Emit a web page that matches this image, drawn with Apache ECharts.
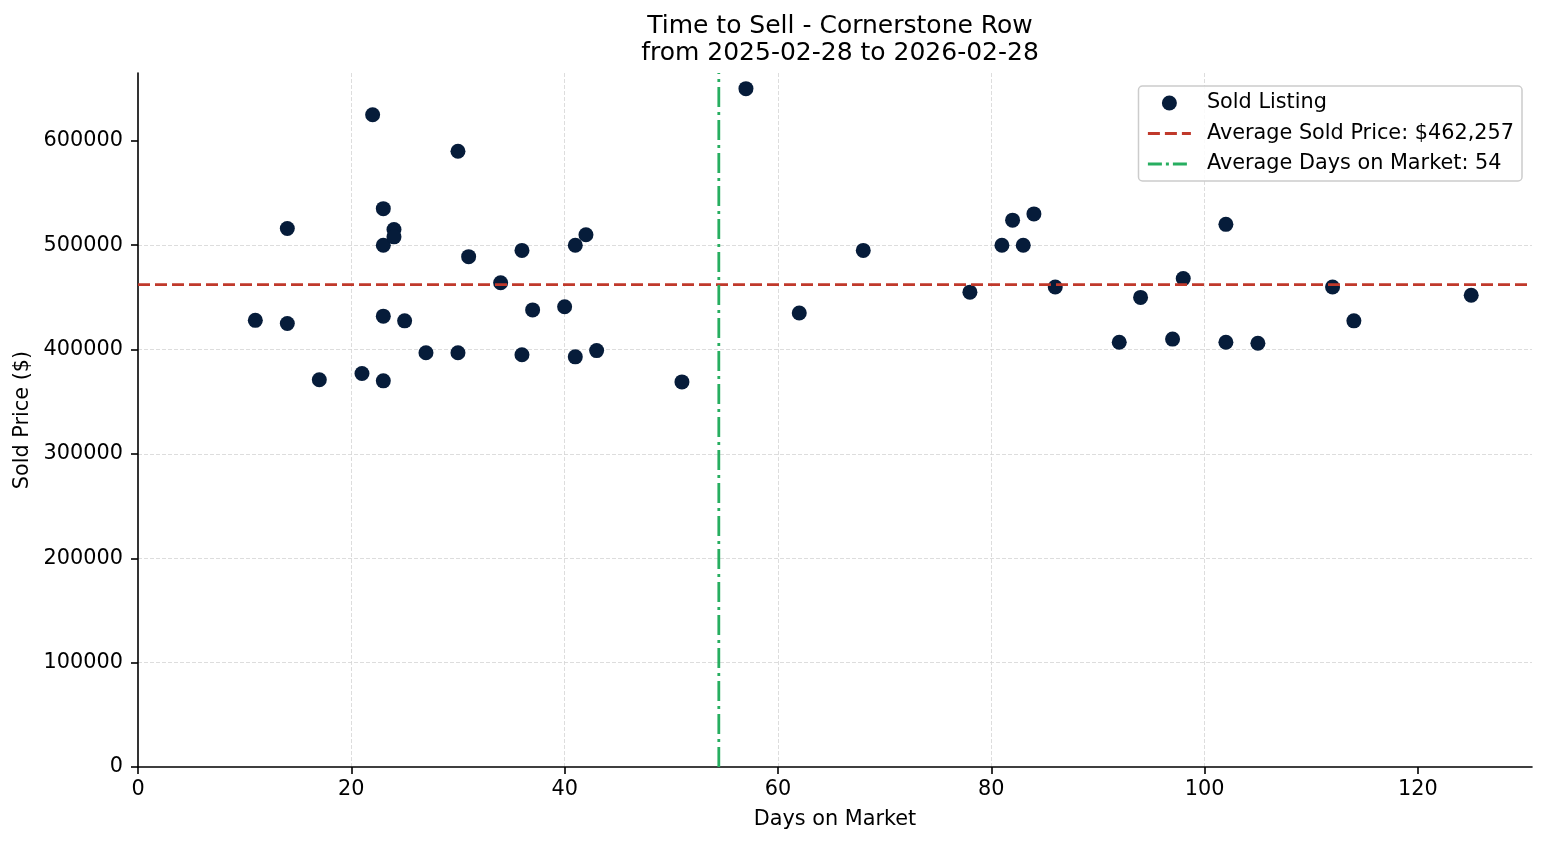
<!DOCTYPE html>
<html>
<head>
<meta charset="utf-8">
<script src="https://cdn.jsdelivr.net/npm/echarts@6/dist/echarts.min.js"></script>
<style>
html,body{margin:0;padding:0;background:#fff;}
#chart{width:1547px;height:845px;}
</style>
</head>
<body>
<div id="chart"></div>
<script>
const titleLines = ['Time to Sell - Cornerstone Row', 'from 2025-02-28 to 2026-02-28'];
const days = [11,14,14,17,21,22,23,23,23,23,24,24,25,27,30,30,31,34,36,36,37,40,41,41,42,43,51,57,62,68,78,81,82,83,84,86,92,94,97,98,102,102,105,112,114,125];
const prices = [428000,516000,425000,371000,377000,625000,535000,500000,432000,370000,515000,508000,427500,397000,590000,397000,489000,464000,495000,395000,438000,441000,500000,393000,510000,399000,369000,650000,435000,495000,455000,500000,524000,500000,530000,460000,407000,450000,410000,468000,520000,407000,406000,460000,427500,452000];
const avgSoldPrice = 462257;
const xTicks = [0,20,40,60,80,100,120];
const yTicks = [0,100000,200000,300000,400000,500000,600000];
const xRange = [0, 130.7];
const yRange = [0, 665000];

const avgDays = days.reduce((a,b)=>a+b,0)/days.length;
const points = days.map((d,i)=>[d, prices[i]]);
const priceLabel = 'Average Sold Price: $' + avgSoldPrice.toLocaleString('en-US');
const daysLabel = 'Average Days on Market: ' + Math.round(avgDays);

const FONT = 'DejaVu Sans';
const FS = 20.8;
const RED = '#c0392b', GREEN = '#27ae60';
const redDash = [12,5], greenDash = [20,5,3,5];
const chart = echarts.init(document.getElementById('chart'), null, {renderer:'canvas'});
const axisCommon = {
  axisLine:{show:true, lineStyle:{color:'#000', width:1.6}},
  axisTick:{show:true, inside:false, length:7, lineStyle:{color:'#000', width:1.6}},
  splitLine:{show:true, showMinLine:false, showMaxLine:false, lineStyle:{color:'#d4d4d4', width:0.8, type:[4,2]}},
  nameTextStyle:{fontFamily:FONT, fontSize:FS, color:'#000'}
};
chart.setOption({
  animation:false,
  backgroundColor:'#fff',
  title:{
    text: titleLines.join('\n'),
    left: 835, top: 8, textAlign:'center',
    textStyle:{fontFamily:FONT, fontSize:25, fontWeight:'normal', color:'#000', lineHeight:27}
  },
  grid:{left:138, right:15, top:73, bottom:78, containLabel:false},
  legend:{
    orient:'vertical', right:25, top:86,
    padding:[5,8,5,8], itemGap:6.5, itemWidth:43, itemHeight:15,
    backgroundColor:'rgba(255,255,255,0.85)', borderColor:'#cccccc', borderWidth:1.5, borderRadius:4,
    textStyle:{fontFamily:FONT, fontSize:FS, color:'#000', lineHeight:24, padding:[0,0,0,11]},
    data:[
      {name:'Sold Listing', icon:'circle'},
      {name:priceLabel, itemStyle:{opacity:0}, lineStyle:{color:RED, width:2.8, type:redDash}},
      {name:daysLabel, itemStyle:{opacity:0}, lineStyle:{color:GREEN, width:2.8, type:[14,4,3,4]}}
    ]
  },
  xAxis:Object.assign({}, axisCommon, {
    type:'value', min:xRange[0], max:xRange[1], interval:20,
    name:'Days on Market', nameLocation:'middle', nameGap:42,
    axisTick:Object.assign({}, axisCommon.axisTick, {customValues:xTicks}),
    axisLabel:{customValues:xTicks, fontFamily:FONT, fontSize:FS, color:'#000', margin:12, formatter:v=>String(v)}
  }),
  yAxis:Object.assign({}, axisCommon, {
    type:'value', min:yRange[0], max:yRange[1], interval:100000,
    name:'Sold Price ($)', nameLocation:'middle', nameGap:103, nameRotate:90,
    axisTick:Object.assign({}, axisCommon.axisTick, {customValues:yTicks}),
    axisLabel:{customValues:yTicks, fontFamily:FONT, fontSize:FS, color:'#000', margin:15, formatter:v=>String(v)}
  }),
  series:[
    {
      name:'Sold Listing', type:'scatter', data:points, symbol:'circle', symbolSize:15,
      itemStyle:{color:'#061c3a', opacity:1}, z:2
    },
    {
      name:priceLabel, type:'line', data:[[xRange[0], avgSoldPrice],[xRange[1], avgSoldPrice]],
      symbol:'none', lineStyle:{color:RED, width:2.8, type:redDash}, itemStyle:{color:RED}, z:3
    },
    {
      name:daysLabel, type:'line', data:[[avgDays, yRange[0]],[avgDays, yRange[1]]],
      symbol:'none', lineStyle:{color:GREEN, width:2.8, type:greenDash}, itemStyle:{color:GREEN}, z:3
    }
  ]
});
</script>
</body>
</html>
